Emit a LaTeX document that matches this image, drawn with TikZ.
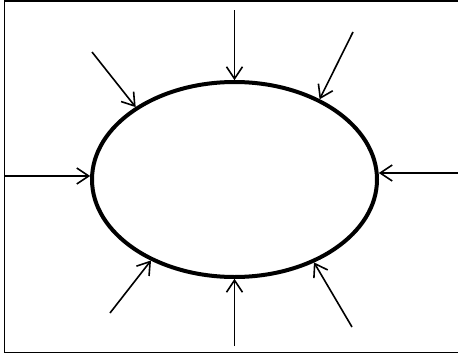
\documentclass[tikz,border=0pt]{standalone}
\usetikzlibrary{arrows.meta,shapes.geometric}
\begin{document}
\begin{tikzpicture}[x=1pt,y=-1pt,
  frameline/.style={line width=1.4pt},
  body/.style={ellipse,draw,line width=4pt,minimum width=285pt,minimum height=195pt,inner sep=0pt,outer sep=0pt},
  push/.style={line width=1.6pt,-{Straight Barb[length=12pt,width=16pt,line width=1.6pt]},shorten >=1.8pt}]
\useasboundingbox (0,0) rectangle (458,356);
\draw[frameline] (458,0.8) -- (4.5,0.8) -- (4.5,352.7) -- (458,352.7);
\node[body] (e) at (234.5,179.5) {};
\coordinate (sT) at (234.5,10);
\coordinate (sTL) at (92,52);
\coordinate (sTR) at (353,32);
\coordinate (sL) at (4.5,176);
\coordinate (sR) at (458,173);
\coordinate (sBL) at (110,313);
\coordinate (sB) at (234.5,346);
\coordinate (sBR) at (352,327);
\draw[push] (sT) -- (e.north);
\draw[push] (sTL) -- (e.144);
\draw[push] (sTR) -- (e.43.4);
\draw[push] (sL) -- (e.west |- sL);
\draw[push] (sR) -- (e.east |- sR);
\draw[push] (sBL) -- (e.224);
\draw[push] (sB) -- (e.south);
\draw[push] (sBR) -- (e.314);
\end{tikzpicture}
\end{document}
